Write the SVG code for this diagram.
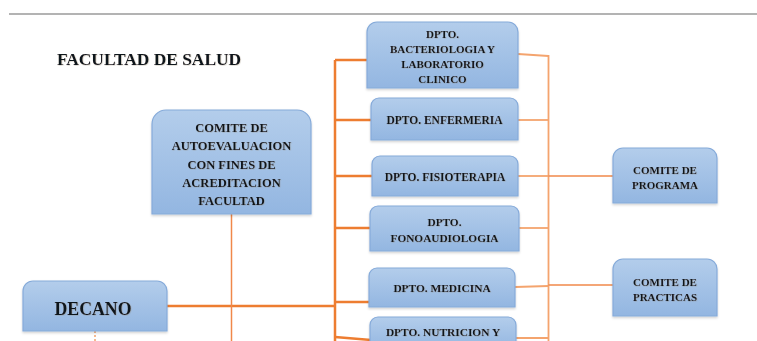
<svg xmlns="http://www.w3.org/2000/svg" width="757" height="341" viewBox="0 0 757 341">
<defs>
<linearGradient id="bx" x1="0" y1="0" x2="0" y2="1">
<stop offset="0" stop-color="#b3cdeb"/>
<stop offset="1" stop-color="#93b6e1"/>
</linearGradient>
<filter id="ts" x="-5%" y="-20%" width="110%" height="140%">
<feDropShadow dx="0.5" dy="0.5" stdDeviation="0.3" flood-color="#8a7a60" flood-opacity="0.45"/>
</filter>
<filter id="bs" x="-5%" y="-5%" width="110%" height="115%">
<feDropShadow dx="0" dy="1.5" stdDeviation="1" flood-color="#000" flood-opacity="0.18"/>
</filter>
</defs>
<style>
.box{fill:url(#bx);stroke:#86abda;stroke-width:1.2;filter:url(#bs)}
.t{font-family:"Liberation Serif","Times New Roman",serif;font-weight:bold;fill:#10131f;text-anchor:middle;filter:url(#ts)}
.dk{stroke:#ed7d31;stroke-width:2.5;fill:none}
.lt{stroke:#f4a46e;stroke-width:1.8;fill:none}
.th{stroke:#f0884a;stroke-width:1.5;fill:none}
</style>
<rect width="757" height="341" fill="#ffffff"/>
<line x1="9" y1="14" x2="757" y2="14" stroke="#9a9a9a" stroke-width="1.6"/>
<text x="149" y="65" class="t" style="font-size:17.4px">FACULTAD DE SALUD</text>

<g id="connectors">
<path class="dk" d="M335,60 V341"/>
<path class="dk" d="M335,60 H368"/>
<path class="dk" d="M335,120 H372"/>
<path class="dk" d="M335,176 H373"/>
<path class="dk" d="M335,228 H371"/>
<path class="dk" d="M335,302 H370"/>
<path class="dk" d="M335,337 L371,340"/>
<path class="dk" d="M167,306 H335"/>
<path class="th" d="M231.5,214 V341"/>
<path d="M95,331 V341" stroke="#f4a46e" stroke-width="1.5" stroke-dasharray="2,2"/>
<path class="lt" d="M548.5,55 V341"/>
<path class="lt" d="M518,54 L548.5,56"/>
<path class="lt" d="M518,120 H548.5"/>
<path class="lt" d="M518,176 H548.5"/>
<path class="th" d="M548.5,176 H613"/>
<path class="lt" d="M519,228 H548.5"/>
<path class="lt" d="M515,287 L548.5,286"/>
<path class="th" d="M548.5,285 H613"/>
<path class="lt" d="M516,338 H548.5"/>
</g>

<g id="dpto-bacteriologia">
<path class="box" d="M367,32 A10,10 0 0 1 377,22 H508 A10,10 0 0 1 518,32 V88 H367 Z"/>
<text class="t" style="font-size:11px" x="442.5" y="37.5">DPTO.</text>
<text class="t" style="font-size:11px" x="442.5" y="52.5">BACTERIOLOGIA Y</text>
<text class="t" style="font-size:11px" x="442.5" y="67.5">LABORATORIO</text>
<text class="t" style="font-size:11px" x="442.5" y="82.5">CLINICO</text>
</g>

<g id="dpto-enfermeria">
<path class="box" d="M371,106 A8,8 0 0 1 379,98 H510 A8,8 0 0 1 518,106 V140 H371 Z"/>
<text class="t" style="font-size:11.5px" x="444.5" y="124">DPTO. ENFERMERIA</text>
</g>

<g id="dpto-fisioterapia">
<path class="box" d="M372,164 A8,8 0 0 1 380,156 H510 A8,8 0 0 1 518,164 V196 H372 Z"/>
<text class="t" style="font-size:11.5px" x="445" y="181">DPTO. FISIOTERAPIA</text>
</g>

<g id="dpto-fonoaudiologia">
<path class="box" d="M370,214 A8,8 0 0 1 378,206 H511 A8,8 0 0 1 519,214 V251 H370 Z"/>
<text class="t" style="font-size:11.3px" x="444.5" y="226">DPTO.</text>
<text class="t" style="font-size:11.3px" x="444.5" y="241.5">FONOAUDIOLOGIA</text>
</g>

<g id="dpto-medicina">
<path class="box" d="M369,276 A8,8 0 0 1 377,268 H507 A8,8 0 0 1 515,276 V307 H369 Z"/>
<text class="t" style="font-size:11.4px" x="442" y="292">DPTO. MEDICINA</text>
</g>

<g id="dpto-nutricion">
<path class="box" d="M370,325 A8,8 0 0 1 378,317 H508 A8,8 0 0 1 516,325 V350 H370 Z"/>
<text class="t" style="font-size:11.4px" x="443" y="336">DPTO. NUTRICION Y</text>
</g>

<g id="comite-programa">
<path class="box" d="M613,158 A10,10 0 0 1 623,148 H707 A10,10 0 0 1 717,158 V203 H613 Z"/>
<text class="t" style="font-size:11px" x="665" y="174">COMITE DE</text>
<text class="t" style="font-size:11px" x="665" y="189">PROGRAMA</text>
</g>

<g id="comite-practicas">
<path class="box" d="M613,269 A10,10 0 0 1 623,259 H707 A10,10 0 0 1 717,269 V316 H613 Z"/>
<text class="t" style="font-size:11px" x="665" y="285.5">COMITE DE</text>
<text class="t" style="font-size:11px" x="665" y="301">PRACTICAS</text>
</g>

<g id="comite-autoevaluacion">
<path class="box" d="M152,124 A14,14 0 0 1 166,110 H297 A14,14 0 0 1 311,124 V214 H152 Z"/>
<text class="t" style="font-size:12.5px" x="231.5" y="132">COMITE DE</text>
<text class="t" style="font-size:12.5px" x="231.5" y="150">AUTOEVALUACION</text>
<text class="t" style="font-size:12.5px" x="231.5" y="168.5">CON FINES DE</text>
<text class="t" style="font-size:12.5px" x="231.5" y="186.5">ACREDITACION</text>
<text class="t" style="font-size:12.5px" x="231.5" y="205">FACULTAD</text>
</g>

<g id="decano">
<path class="box" d="M23,291 A10,10 0 0 1 33,281 H157 A10,10 0 0 1 167,291 V331 H23 Z"/>
<text class="t" style="font-size:17.8px" x="93" y="315">DECANO</text>
</g>
</svg>
